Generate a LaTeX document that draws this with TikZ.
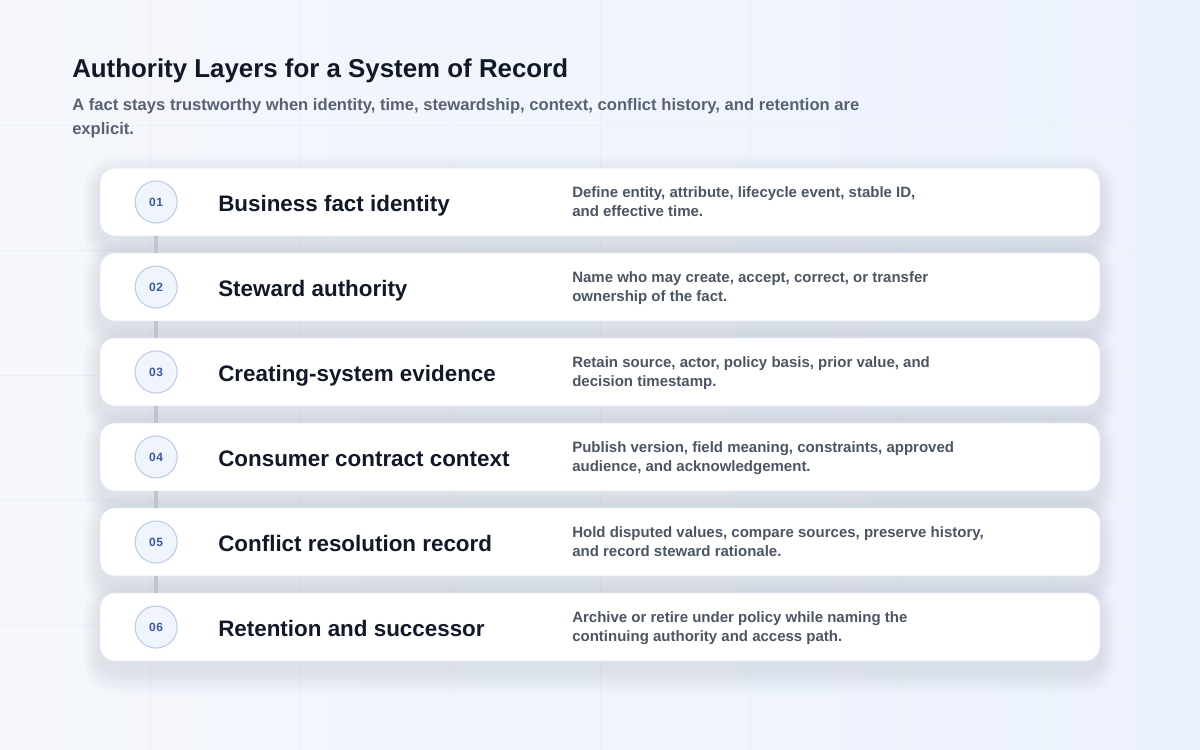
\documentclass[tikz,border=0pt]{standalone}
\usepackage{fontspec}
\setmainfont{Liberation Sans}
\definecolor{bgleft}{RGB}{245,247,252}
\definecolor{bgright}{RGB}{236,242,253}
\definecolor{gridline}{RGB}{235,239,246}
\definecolor{ink}{RGB}{17,24,39}
\definecolor{subink}{RGB}{88,98,115}
\definecolor{noteink}{RGB}{75,85,99}
\definecolor{cardedge}{RGB}{226,231,240}
\definecolor{badgefill}{RGB}{239,244,253}
\definecolor{badgeedge}{RGB}{187,205,234}
\definecolor{badgeink}{RGB}{58,89,165}
\definecolor{linkgray}{RGB}{192,196,205}
\definecolor{shadowc}{RGB}{110,120,150}
\usetikzlibrary{positioning, backgrounds}

\begin{document}
\begin{tikzpicture}[x=0.75pt, y=-0.75pt,
  cardbox/.style={rounded corners=11pt, fill=white, draw=cardedge, line width=0.6pt,
                  minimum width=750pt, minimum height=51pt},
  badge/.style={circle, fill=badgefill, draw=badgeedge, line width=0.8pt,
                minimum size=31.5pt, inner sep=0pt, text=badgeink,
                font=\bfseries\fontsize{9}{10}\selectfont\addfontfeature{LetterSpace=6}},
  steptitle/.style={anchor=base west, inner sep=0pt, text=ink,
                    font=\bfseries\fontsize{16.8}{20}\selectfont},
  stepnote/.style={anchor=base west, inner sep=0pt, align=left, text=noteink,
                   font=\bfseries\fontsize{11.25}{14.6}\selectfont},
  link/.style={line width=3pt, linkgray}]
  \useasboundingbox (0,0) rectangle (1200,750);

  % Heading
  \node[anchor=base west, inner sep=0pt, text=ink,
        font=\bfseries\fontsize{19.4}{23}\selectfont]
    (title) at (72,77) {Authority Layers for a System of Record};
  \node[anchor=base west, inner sep=0pt, align=left, text=subink,
        font=\bfseries\fontsize{12.45}{18}\selectfont]
    (subtitle) at (72,134) {A fact stays trustworthy when identity, time, stewardship, context, conflict history, and retention are\\explicit.};

  % Layer 1: Business fact identity
  \node[cardbox] (card1) at (600,202) {};
  \node[badge, right=26.25pt of card1.west] (b1) {01};
  \node[steptitle] (t1) at (218,211) {Business fact identity};
  \node[stepnote] (n1) at (572,216.5) {Define entity, attribute, lifecycle event, stable ID,\\and effective time.};

  % Layer 2: Steward authority
  \node[cardbox] (card2) at (600,287) {};
  \node[badge, right=26.25pt of card2.west] (b2) {02};
  \node[steptitle] (t2) at (218,296) {Steward authority};
  \node[stepnote] (n2) at (572,301.5) {Name who may create, accept, correct, or transfer\\ownership of the fact.};

  % Layer 3: Creating-system evidence
  \node[cardbox] (card3) at (600,372) {};
  \node[badge, right=26.25pt of card3.west] (b3) {03};
  \node[steptitle] (t3) at (218,381) {Creating-system evidence};
  \node[stepnote] (n3) at (572,386.5) {Retain source, actor, policy basis, prior value, and\\decision timestamp.};

  % Layer 4: Consumer contract context
  \node[cardbox] (card4) at (600,457) {};
  \node[badge, right=26.25pt of card4.west] (b4) {04};
  \node[steptitle] (t4) at (218,466) {Consumer contract context};
  \node[stepnote] (n4) at (572,471.5) {Publish version, field meaning, constraints, approved\\audience, and acknowledgement.};

  % Layer 5: Conflict resolution record
  \node[cardbox] (card5) at (600,542) {};
  \node[badge, right=26.25pt of card5.west] (b5) {05};
  \node[steptitle] (t5) at (218,551) {Conflict resolution record};
  \node[stepnote] (n5) at (572,556.5) {Hold disputed values, compare sources, preserve history,\\and record steward rationale.};

  % Layer 6: Retention and successor
  \node[cardbox] (card6) at (600,627) {};
  \node[badge, right=26.25pt of card6.west] (b6) {06};
  \node[steptitle] (t6) at (218,636) {Retention and successor};
  \node[stepnote] (n6) at (572,641.5) {Archive or retire under policy while naming the\\continuing authority and access path.};

  % Spine between badges
  \draw[link] (b1 |- card1.south) -- (b2 |- card2.north);
  \draw[link] (b2 |- card2.south) -- (b3 |- card3.north);
  \draw[link] (b3 |- card3.south) -- (b4 |- card4.north);
  \draw[link] (b4 |- card4.south) -- (b5 |- card5.north);
  \draw[link] (b5 |- card5.south) -- (b6 |- card6.north);

  % Backdrop, faint grid and soft card shadows
  \begin{scope}[on background layer]
    \fill[left color=bgleft, right color=bgright] (0,0) rectangle (1200,750);
    \foreach \gx in {150,300,...,1050} \draw[gridline, line width=0.6pt] (\gx,0) -- (\gx,750);
    \foreach \gy in {125,250,...,625} \draw[gridline, line width=0.6pt] (0,\gy) -- (1200,\gy);
    \foreach \n in {1,...,6}
      \foreach \k in {1,...,10}
        \fill[shadowc, fill opacity=0.014, rounded corners=11pt+\k*1.4pt]
          ([shift={(-1.6*\k,10-2.2*\k)}]card\n.north west) rectangle
          ([shift={(1.6*\k,10+2.2*\k)}]card\n.south east);
  \end{scope}
\end{tikzpicture}
\end{document}
